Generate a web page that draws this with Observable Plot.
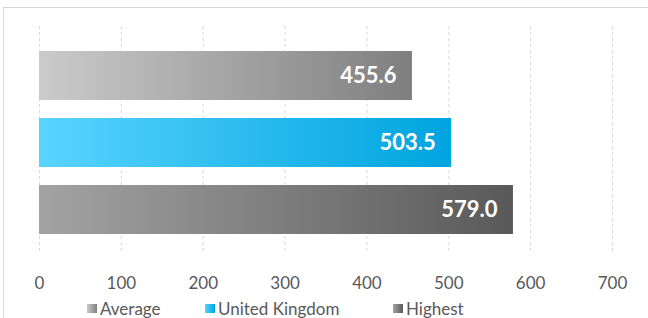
<!DOCTYPE html>
<html>
<head>
<meta charset="utf-8">
<script src="https://cdn.jsdelivr.net/npm/d3@7"></script>
<script src="https://cdn.jsdelivr.net/npm/@observablehq/plot@0.6"></script>
<style>
  html, body { margin: 0; padding: 0; background: #fff; }
  #wrap { position: relative; width: 648px; height: 318px; overflow: hidden; font-family: Lato, "Noto Sans", sans-serif; }
  #frame { position: absolute; left: 3px; top: 7px; width: 700px; height: 400px; border-top: 1px solid #d6d6d6; border-left: 1px solid #d6d6d6; }
  #chart { position: absolute; left: 0; top: 0; }
  #legend { position: absolute; top: 298px; left: 0; width: 648px; height: 20px; color: #595959; font-size: 17px; }
  .item { position: absolute; top: 0; display: flex; align-items: center; height: 20px; }
  .sw { width: 10px; height: 9px; margin-right: 3px; }
</style>
</head>
<body>
<div id="wrap">
  <div id="frame"></div>
  <div id="chart"></div>
  <div id="legend"></div>
</div>
<script>
const categories = ["Average", "United Kingdom", "Highest"];
const values = [455.6, 503.5, 579.0];
const tickValues = [0, 100, 200, 300, 400, 500, 600, 700];
const gradientStops = [
  ["#cbcbcb", "#7f7f7f"],
  ["#58d4ff", "#00a4df"],
  ["#a3a3a3", "#595959"]
];
const gradIds = ["gAvg", "gUK", "gHigh"];
const legendLefts = [87, 205, 393];

const data = categories.map((c, i) => ({category: c, value: values[i], fill: `url(#${gradIds[i]})`}));

const chart = Plot.plot({
  width: 648,
  height: 300,
  marginLeft: 39,
  marginRight: 36,
  marginTop: 26,
  marginBottom: 46,
  style: {fontFamily: "Lato, 'Noto Sans', sans-serif", background: "transparent"},
  x: {domain: [0, 700], ticks: tickValues, tickSize: 0, tickPadding: 22, label: null},
  y: {domain: categories, range: [31.5, 252.5], padding: 0.274, axis: null},
  color: {type: "identity"},
  marks: [
    Plot.ruleX(tickValues, {stroke: "#d9d9d9", strokeDasharray: "3,3", strokeWidth: 1}),
    Plot.barX(data, {x: "value", y: "category", fill: "fill"}),
    Plot.text(data, {x: "value", y: "category", text: d => d.value.toFixed(1), textAnchor: "end", dx: -16, fill: "white", fontWeight: "bold", fontSize: 22}),
    Plot.axisX({ticks: tickValues, tickSize: 0, tickPadding: 22, fontSize: 17, fill: "#595959", label: null})
  ]
});

const defs = d3.select(chart).insert("defs", ":first-child");
gradIds.forEach((id, i) => {
  const g = defs.append("linearGradient").attr("id", id).attr("x1", 0).attr("x2", 1).attr("y1", 0).attr("y2", 0);
  g.append("stop").attr("offset", "0%").attr("stop-color", gradientStops[i][0]);
  g.append("stop").attr("offset", "100%").attr("stop-color", gradientStops[i][1]);
});
document.getElementById("chart").appendChild(chart);

const legend = document.getElementById("legend");
categories.forEach((c, i) => {
  const item = document.createElement("div");
  item.className = "item";
  item.style.left = legendLefts[i] + "px";
  const sw = document.createElement("div");
  sw.className = "sw";
  sw.style.background = `linear-gradient(to right, ${gradientStops[i][0]}, ${gradientStops[i][1]})`;
  const t = document.createElement("span");
  t.textContent = c;
  item.appendChild(sw);
  item.appendChild(t);
  legend.appendChild(item);
});
</script>
</body>
</html>
